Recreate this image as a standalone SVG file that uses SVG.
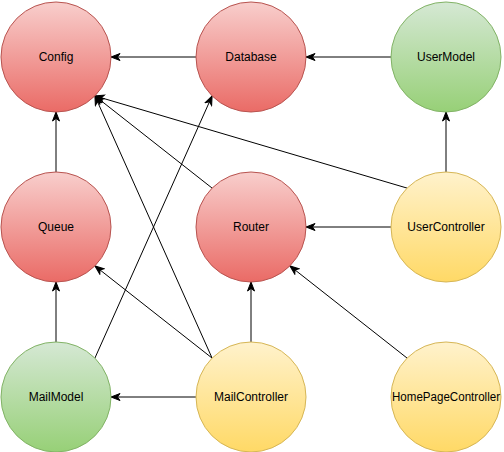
<svg xmlns="http://www.w3.org/2000/svg" width="504" height="452" viewBox="0 0 504 452">
<defs>
<linearGradient id="gRed" x1="0" y1="0" x2="0" y2="1"><stop offset="0" stop-color="#f8cecc"/><stop offset="1" stop-color="#ea6b66"/></linearGradient>
<linearGradient id="gGreen" x1="0" y1="0" x2="0" y2="1"><stop offset="0" stop-color="#d5e8d4"/><stop offset="1" stop-color="#97d077"/></linearGradient>
<linearGradient id="gYellow" x1="0" y1="0" x2="0" y2="1"><stop offset="0" stop-color="#fff2cc"/><stop offset="1" stop-color="#ffd966"/></linearGradient>
<marker id="arr" markerUnits="userSpaceOnUse" markerWidth="11" markerHeight="9" refX="10" refY="4.5" orient="auto">
<path d="M1,1 L10,4.5 L1,8 L3.5,4.5 z" fill="#000" stroke="#000" stroke-width="1"/>
</marker>
<style>
.red{fill:url(#gRed);stroke:#b85450;stroke-width:1}
.green{fill:url(#gGreen);stroke:#82b366;stroke-width:1}
.yellow{fill:url(#gYellow);stroke:#d6b656;stroke-width:1}
text{font-family:"Liberation Sans",Arial,Helvetica,sans-serif;font-size:12px;fill:#000;text-anchor:middle}
.edge{stroke:#000;stroke-width:1;fill:none;marker-end:url(#arr)}
</style>
</defs>
<rect width="504" height="452" fill="#fff"/>
<g id="connectors">
<line class="edge" x1="196" y1="57" x2="111" y2="57"/>
<line class="edge" x1="391" y1="57" x2="306" y2="57"/>
<line class="edge" x1="446" y1="172" x2="446" y2="112"/>
<line class="edge" x1="391" y1="227" x2="306" y2="227"/>
<line class="edge" x1="407.1" y1="188.1" x2="94.9" y2="95.9"/>
<line class="edge" x1="212.1" y1="188.1" x2="94.9" y2="95.9"/>
<line class="edge" x1="212.1" y1="358.1" x2="94.9" y2="95.9"/>
<line class="edge" x1="94.9" y1="358.1" x2="212.1" y2="95.9"/>
<line class="edge" x1="56" y1="342" x2="56" y2="282"/>
<line class="edge" x1="56" y1="172" x2="56" y2="112"/>
<line class="edge" x1="212.1" y1="358.1" x2="94.9" y2="265.9"/>
<line class="edge" x1="251" y1="342" x2="251" y2="282"/>
<line class="edge" x1="196" y1="397" x2="111" y2="397"/>
<line class="edge" x1="407.1" y1="358.1" x2="289.9" y2="265.9"/>
</g>
<g id="Config"><circle class="red" cx="56" cy="57" r="55"/><text x="56" y="61">Config</text></g>
<g id="Database"><circle class="red" cx="251" cy="57" r="55"/><text x="251" y="61">Database</text></g>
<g id="UserModel"><circle class="green" cx="446" cy="57" r="55"/><text x="446" y="61">UserModel</text></g>
<g id="Queue"><circle class="red" cx="56" cy="227" r="55"/><text x="56" y="231">Queue</text></g>
<g id="Router"><circle class="red" cx="251" cy="227" r="55"/><text x="251" y="231">Router</text></g>
<g id="UserController"><circle class="yellow" cx="446" cy="227" r="55"/><text x="446" y="231">UserController</text></g>
<g id="MailModel"><circle class="green" cx="56" cy="397" r="55"/><text x="56" y="401">MailModel</text></g>
<g id="MailController"><circle class="yellow" cx="251" cy="397" r="55"/><text x="251" y="401">MailController</text></g>
<g id="HomePageController"><circle class="yellow" cx="446" cy="397" r="55"/><text x="446" y="401" textLength="108" lengthAdjust="spacingAndGlyphs">HomePageController</text></g>
</svg>
